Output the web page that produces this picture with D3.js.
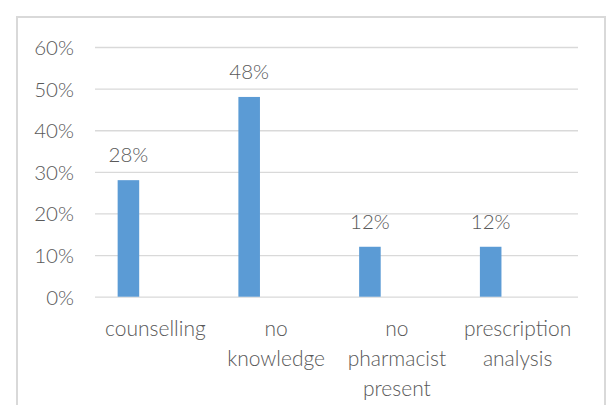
<!DOCTYPE html>
<html>
<head>
<meta charset="utf-8">
<script src="https://cdn.jsdelivr.net/npm/d3@7"></script>
<style>
  body { margin: 0; background: #fff; }
  svg text { font-family: Lato, "Open Sans", sans-serif; font-weight: 300; fill: #595959; }
</style>
</head>
<body>
<svg id="chart"></svg>
<script>
var categories = ["counselling", "no knowledge", "no pharmacist present", "prescription analysis"]
var categoryLines = [["counselling"], ["no", "knowledge"], ["no", "pharmacist", "present"], ["prescription", "analysis"]]
var values = [0.28, 0.48, 0.12, 0.12]
var yTicks = [0, 0.1, 0.2, 0.3, 0.4, 0.5, 0.6]
// excel drew this as two series, the second one empty
var series = ["share", "empty"]

var dimensions = {
    width: 612,
    height: 405,
    margin: { top: 47, bottom: 108, left: 95, right: 34 }
}

var svg = d3.select("#chart")
    .attr("width", dimensions.width)
    .attr("height", dimensions.height)

// chart frame
svg.append("rect")
    .attr("x", 17)
    .attr("y", 17)
    .attr("width", 588)
    .attr("height", 420)
    .attr("fill", "none")
    .attr("stroke", "#d9d9d9")
    .attr("stroke-width", 2)

var xScale = d3.scaleBand()
    .domain(categories)
    .range([dimensions.margin.left, dimensions.width - dimensions.margin.right])

var x1 = d3.scaleBand()
    .domain(series)
    .range([0, xScale.bandwidth()])
    .paddingInner(0.6)
    .paddingOuter(0.42)

var yScale = d3.scaleLinear()
    .domain([0, 0.6])
    .range([dimensions.height - dimensions.margin.bottom - 0.3, dimensions.margin.top])

var yAxisGen = d3.axisLeft(yScale)
    .tickValues(yTicks)
    .tickFormat(d3.format(".0%"))
    .tickSize(-(xScale.range()[1] - xScale.range()[0]))
    .tickPadding(21)

var yAxis = svg.append("g")
    .attr("class", "y axis")
    .attr("transform", "translate(" + dimensions.margin.left + ",0)")
    .call(yAxisGen)

yAxis.select(".domain").remove()
yAxis.selectAll("line").attr("stroke", "#d9d9d9").attr("stroke-width", 1.3)
yAxis.selectAll("text")
    .style("font-size", "20.5px")
    .attr("dy", "0.36em")
    .attr("fill", "#595959")

var data = categories.map(function (c, i) { return { cat: c, value: values[i], lines: categoryLines[i] } })

svg.append("g")
    .selectAll(".bar")
    .data(data)
    .enter()
    .append("rect")
    .attr("class", "bar")
    .attr("x", d => xScale(d.cat) + x1("share"))
    .attr("width", x1.bandwidth())
    .attr("y", d => yScale(d.value))
    .attr("height", d => yScale(0) - yScale(d.value))
    .attr("fill", "#5b9bd5")

svg.append("g")
    .selectAll(".label")
    .data(data)
    .enter()
    .append("text")
    .attr("class", "label")
    .attr("x", d => xScale(d.cat) + x1("share") + x1.bandwidth() / 2)
    .attr("y", d => yScale(d.value) - 18)
    .attr("text-anchor", "middle")
    .style("font-size", "20.5px")
    .text(d => d3.format(".0%")(d.value))

// category labels, wrapped like excel did
var catLabels = svg.append("g")
    .selectAll(".cat")
    .data(data)
    .enter()
    .append("text")
    .attr("class", "cat")
    .attr("text-anchor", "middle")
    .style("font-size", "21px")

catLabels.selectAll("tspan")
    .data(d => d.lines.map(l => ({ line: l, cat: d.cat })))
    .enter()
    .append("tspan")
    .attr("x", d => xScale(d.cat) + xScale.bandwidth() / 2)
    .attr("y", (d, i) => 336 + i * 30)
    .text(d => d.line)
</script>
</body>
</html>
